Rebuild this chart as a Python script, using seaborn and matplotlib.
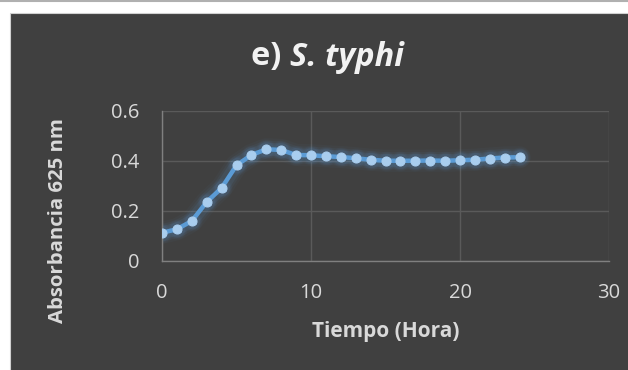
import matplotlib
matplotlib.use("Agg")
import matplotlib.pyplot as plt
import seaborn as sns
import numpy as np
import pandas as pd
from matplotlib.patches import Rectangle
from matplotlib.lines import Line2D

tiempo = [0, 1, 2, 3, 4, 5, 6, 7, 8, 9, 10, 11, 12, 13, 14, 15, 16, 17, 18, 19, 20, 21, 22, 23, 24]
absorbancia = [0.113, 0.127, 0.160, 0.236, 0.292, 0.383, 0.424, 0.447, 0.444, 0.424, 0.423, 0.419,
               0.416, 0.411, 0.405, 0.401, 0.401, 0.401, 0.402, 0.401, 0.403, 0.405, 0.410, 0.414, 0.415]
error = [0.010] * 25
x_ticks = [0, 10, 20, 30]
y_ticks = [0, 0.2, 0.4, 0.6]
y_ticklabels = ["0", "0.2", "0.4", "0.6"]
title_prefix = "e) "
title_species = "S. typhi"
xlabel = "Tiempo (Hora)"
ylabel = "Absorbancia 625 nm"

df = pd.DataFrame({"Tiempo": tiempo, "Abs": absorbancia, "err": error})

sns.set_theme(style="dark")
plt.rcParams["font.family"] = ["Open Sans", "DejaVu Sans"]

bg = "#404040"
W, H = 628, 370
fig = plt.figure(figsize=(6.28, 3.70), dpi=100)
fig.patch.set_facecolor("white")
fig.patches.append(Rectangle((9.5 / W, -0.01), 1.02 - 9.5 / W, (H - 12.5) / H + 0.01,
                             transform=fig.transFigure, facecolor=bg,
                             edgecolor="#d0d0d0", linewidth=0.8, zorder=-10))
fig.lines.append(Line2D([0, 1], [1 - 1 / H, 1 - 1 / H], transform=fig.transFigure,
                        color="#b0b0b0", linewidth=1.5, zorder=-5))

ax = fig.add_axes([162 / W, (H - 261) / H, (609 - 162) / W, 150 / H])
ax.set_facecolor(bg)

# glow
for lw, a in [(16, 0.04), (12.5, 0.06), (9.5, 0.09)]:
    ax.plot(df["Tiempo"], df["Abs"], color="#5B9BD5", linewidth=lw, alpha=a,
            solid_capstyle="round", zorder=2)
    ax.scatter(df["Tiempo"], df["Abs"], s=lw * 13, color="#5B9BD5", alpha=a, linewidths=0, zorder=2)

ax.errorbar(df["Tiempo"], df["Abs"], yerr=df["err"], fmt="none", ecolor="#7fa8d0",
            elinewidth=0.8, capsize=3, capthick=0.8, zorder=3)
sns.lineplot(data=df, x="Tiempo", y="Abs", ax=ax, color="#5B9BD5", linewidth=3.2,
             marker="o", markersize=6.5, markerfacecolor="#A9CDEE", markeredgecolor="#A9CDEE",
             zorder=4)

ax.set_xlim(0, 30)
ax.set_ylim(0, 0.6)
ax.set_xticks(x_ticks)
ax.set_yticks(y_ticks)
ax.set_yticklabels(y_ticklabels)
ax.tick_params(colors="#d9d9d9", labelsize=14.5, length=0)
ax.tick_params(axis="y", pad=16)
ax.tick_params(axis="x", pad=16)
ax.grid(True, color="#5a5a5a", linewidth=1.0)
for s in ["top", "right"]:
    ax.spines[s].set_visible(False)
for s in ["left", "bottom"]:
    ax.spines[s].set_color("#808080")
    ax.spines[s].set_linewidth(1.0)

ax.set_xlabel(xlabel, color="#d9d9d9", fontsize=15, fontweight="bold")
ax.xaxis.set_label_coords(0.5, (261 - 332) / 150, transform=ax.transAxes)
ax.xaxis.label.set_va("center")
ax.set_ylabel(ylabel, color="#d9d9d9", fontsize=14.7, fontweight="bold")
ax.yaxis.set_label_coords((58.5 - 162) / 447, (261 - 221) / 150)
ax.yaxis.label.set_va("center")

ty = (H - 57) / H
tx = 290 / W
fig.text(tx, ty, title_prefix, color="#f2f2f2", fontsize=23.4, fontweight="bold",
         ha="right", va="center")
fig.text(tx, ty, title_species, color="#f2f2f2", fontsize=23.4, fontweight="bold",
         fontstyle="italic", ha="left", va="center")

fig.savefig("out.png", dpi=100, facecolor=fig.get_facecolor())
